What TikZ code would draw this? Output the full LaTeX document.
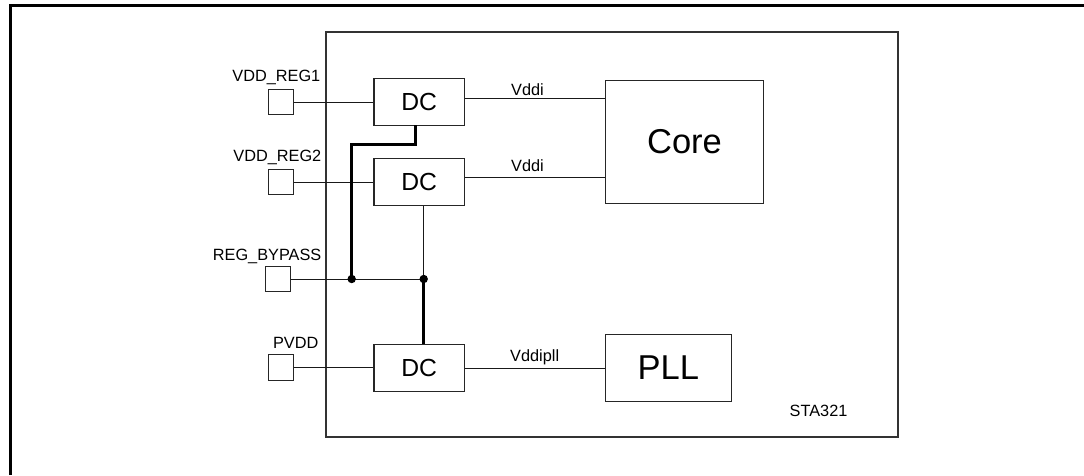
\documentclass[tikz,border=0pt]{standalone}
\usepackage{fontspec}
\setmainfont{Liberation Sans}
\begin{document}
\begin{tikzpicture}[x=1pt,y=-1pt,
  box/.style={draw=black!85, line width=1.2pt, inner sep=0pt, minimum width=90.4pt, minimum height=46.4pt, font=\fontsize{24.7}{26}\selectfont},
  bigbox/.style={draw=black!85, line width=1.2pt, inner sep=0pt, font=\fontsize{34.5}{36}\selectfont},
  pad/.style={draw=black!85, line width=1.2pt, inner sep=0pt, minimum width=24.6pt, minimum height=25.7pt},
  lbl/.style={inner sep=0pt, font=\fontsize{16.3}{18}\selectfont},
  wire/.style={line width=1pt, draw=black!90},
  bus/.style={line width=2.6pt, draw=black},
  dot/.style={circle, fill=black, inner sep=0pt, minimum size=8.4pt}]
\useasboundingbox (0,0) rectangle (1084,475);
% outer frame (cut off)
\draw[line width=2.7pt, line join=miter] (10.7,475) -- (10.7,5.7) -- (1084,5.7);
% chip
\node[draw=black!80, line width=1.5pt, inner sep=0pt, minimum width=572pt, minimum height=405pt] (chip) at (612,234.4) {};
\node[lbl, anchor=base west] (sta) at (789.5,416.3) {STA321};
% blocks
\node[box] (dc1) at (419.2,102) {DC};
\node[box] (dc2) at (419.2,181.9) {DC};
\node[box] (dc3) at (419.2,368) {DC};
\node[bigbox, minimum width=158.3pt, minimum height=123pt] (core) at (684.5,141.8) {Core};
\node[bigbox, minimum width=125.8pt, minimum height=67pt] (pll) at (668.3,367.8) {PLL};
% pads
\node[pad] (p1) at (281,102) {};
\node[pad] (p2) at (281,182) {};
\node[pad] (p3) at (278,279) {};
\node[pad] (p4) at (281,367.5) {};
\node[lbl, anchor=base east] (l1) at (320.5,81.7) {VDD\_REG1};
\node[lbl, anchor=base east] (l2) at (321.5,161.7) {VDD\_REG2};
\node[lbl, anchor=base east] (l3) at (321.5,260) {REG\_BYPASS};
\node[lbl, anchor=base east] (l4) at (318.5,348) {PVDD};
% input wires
\draw[wire] (p1.east) -- (p1.east -| dc1.west);
\draw[wire] (p2.east) -- (p2.east -| dc2.west);
\draw[wire] (p4.east) -- (p4.east -| dc3.west);
% outputs
\coordinate (o1) at ([yshift=3.7pt]dc1.east);
\coordinate (o2) at ([yshift=4.2pt]dc2.east);
\draw[wire] (o1) -- (o1 -| core.west);
\draw[wire] (o2) -- (o2 -| core.west);
\draw[wire] (dc3.east) -- (dc3.east -| pll.west);
\node[lbl, anchor=base west] (v1) at (511,95) {Vddi};
\node[lbl, anchor=base west] (v2) at (511,171.7) {Vddi};
\node[lbl, anchor=base west] (v3) at (510,361.7) {Vddipll};
% bypass network
\coordinate (j1) at (351.7,279);
\coordinate (j2) at (423.7,279);
\draw[wire] (p3.east) -- (j2);
\draw[wire] (j2 |- dc2.south) -- (j2);
\draw[bus] (415.7,125.3) -- (415.7,144.3) -| (j1);
\draw[bus] (j2) -- (j2 |- dc3.north);
\node[dot] (d1) at (j1) {};
\node[dot] (d2) at (j2) {};
\end{tikzpicture}
\end{document}
